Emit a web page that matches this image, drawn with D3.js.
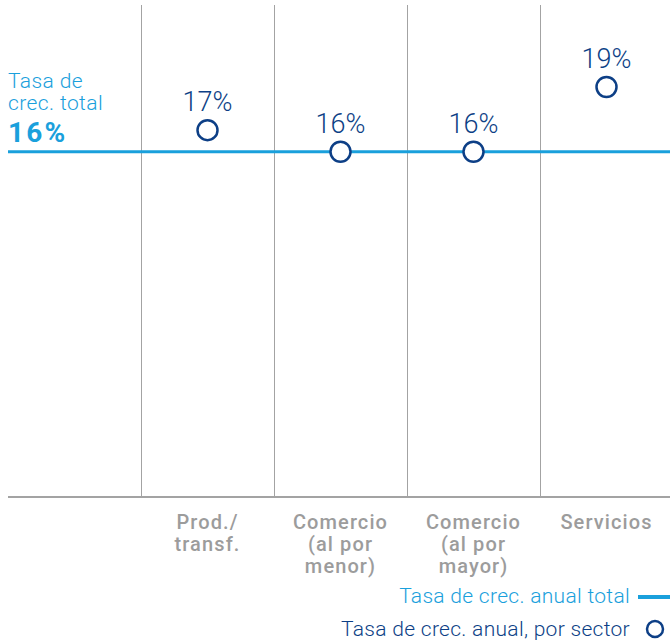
<!DOCTYPE html>
<html>
<head>
<meta charset="utf-8">
<script src="https://cdn.jsdelivr.net/npm/d3@7"></script>
<style>
  body { margin: 0; background: #fff; }
  text { font-family: Roboto, "Noto Sans", sans-serif; }
</style>
</head>
<body>
<div id="chart-area"></div>
<script>
// data
var sectors = ["Prod./\ntransf.", "Comercio\n(al por\nmenor)", "Comercio\n(al por\nmayor)", "Servicios"];
var sectorRates = [17, 16, 16, 19];
var totalRate = 16;

var width = 670, height = 644;
var darkBlue = "#0d3f86", lightBlue = "#1aa0dc", grey = "#a3a3a3";

var svg = d3.select("#chart-area").append("svg")
    .attr("width", width)
    .attr("height", height);

// first band holds the total label, the rest hold sectors
var x = d3.scaleBand()
    .domain(["total"].concat(sectors))
    .range([8, 673])
    .padding(0);

var y = d3.scaleLinear()
    .domain([0, 22.8])
    .range([497, 5]);

// vertical separators
svg.selectAll(".sep")
    .data(sectors)
    .enter().append("line")
    .attr("x1", function(d) { return x(d) + 0.5; })
    .attr("x2", function(d) { return x(d) + 0.5; })
    .attr("y1", y(22.8))
    .attr("y2", y(0))
    .attr("stroke", grey)
    .attr("stroke-width", 1);

// baseline
svg.append("line")
    .attr("x1", 8).attr("x2", width)
    .attr("y1", y(0)).attr("y2", y(0))
    .attr("stroke", grey)
    .attr("stroke-width", 2);

// total line
svg.append("line")
    .attr("x1", 8).attr("x2", width)
    .attr("y1", y(totalRate)).attr("y2", y(totalRate))
    .attr("stroke", lightBlue)
    .attr("stroke-width", 3);

// total label
var tl = svg.append("text").attr("x", 8).attr("fill", lightBlue);
tl.append("tspan").attr("x", 8).attr("y", 88).attr("font-size", "21px").attr("font-weight", 300)
    .attr("letter-spacing", "0.4px").text("Tasa de");
tl.append("tspan").attr("x", 8).attr("y", 110).attr("font-size", "21px").attr("font-weight", 300)
    .attr("letter-spacing", "0.4px").text("crec. total");
tl.append("tspan").attr("x", 8).attr("y", 142).attr("font-size", "28px").attr("font-weight", 700)
    .attr("letter-spacing", "2.2px").text(totalRate + "%");

// sector points
svg.selectAll(".pt")
    .data(sectors)
    .enter().append("circle")
    .attr("cx", function(d) { return x(d) + x.bandwidth() / 2; })
    .attr("cy", function(d, i) { return y(sectorRates[i]); })
    .attr("r", 10)
    .attr("fill", "#fff")
    .attr("stroke", darkBlue)
    .attr("stroke-width", 2.5);

svg.selectAll(".val")
    .data(sectors)
    .enter().append("text")
    .attr("x", function(d) { return x(d) + x.bandwidth() / 2; })
    .attr("y", function(d, i) { return y(sectorRates[i]) - 19; })
    .attr("text-anchor", "middle")
    .attr("font-size", "27px")
    .attr("font-weight", 300)
    .attr("fill", darkBlue)
    .text(function(d, i) { return sectorRates[i] + "%"; });

// category labels
svg.selectAll(".cat")
    .data(sectors)
    .enter().append("text")
    .attr("text-anchor", "middle")
    .attr("font-size", "20px")
    .attr("font-weight", 500)
    .attr("letter-spacing", "1.1px")
    .attr("fill", "#9c9c9c")
    .each(function(d) {
        var t = d3.select(this);
        d.split("\n").forEach(function(line, j) {
            t.append("tspan")
                .attr("x", x(d) + x.bandwidth() / 2)
                .attr("y", 529 + j * 22)
                .text(line);
        });
    });

// legend
svg.append("text")
    .attr("x", 630).attr("y", 603)
    .attr("text-anchor", "end")
    .attr("font-size", "21px")
    .attr("font-weight", 300)
    .attr("letter-spacing", "0.3px")
    .attr("fill", lightBlue)
    .text("Tasa de crec. anual total");
svg.append("line")
    .attr("x1", 638).attr("x2", 670)
    .attr("y1", 597).attr("y2", 597)
    .attr("stroke", lightBlue)
    .attr("stroke-width", 4);

svg.append("text")
    .attr("x", 630).attr("y", 636)
    .attr("text-anchor", "end")
    .attr("font-size", "21px")
    .attr("font-weight", 300)
    .attr("letter-spacing", "0.3px")
    .attr("fill", darkBlue)
    .text("Tasa de crec. anual, por sector");
svg.append("circle")
    .attr("cx", 655).attr("cy", 629)
    .attr("r", 8)
    .attr("fill", "#fff")
    .attr("stroke", darkBlue)
    .attr("stroke-width", 2.5);
</script>
</body>
</html>
